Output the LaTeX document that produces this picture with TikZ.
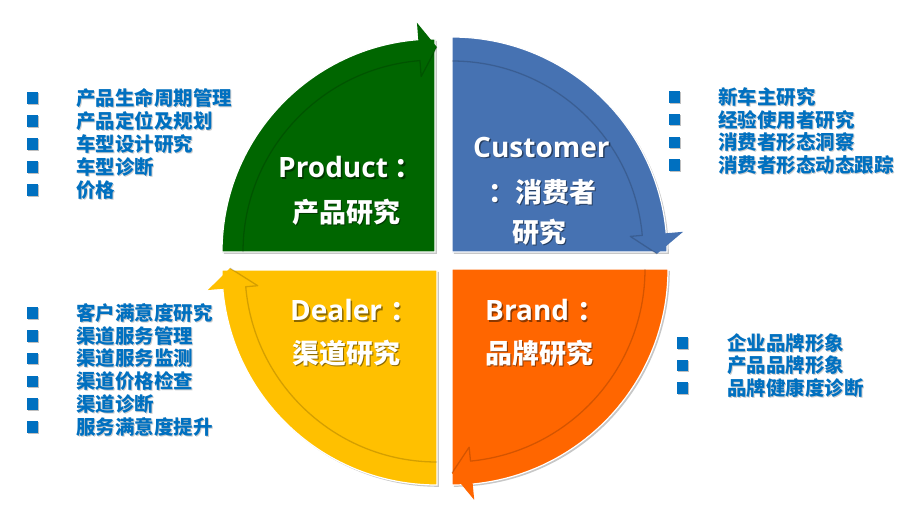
\documentclass[tikz,border=0pt]{standalone}
\usepackage{fontspec}
\setmainfont{Noto Sans CJK SC}
\newfontfamily\latf{Open Sans}
\usetikzlibrary{calc}
\definecolor{qgreen}{RGB}{0,102,0}
\definecolor{qblue}{RGB}{70,114,178}
\definecolor{qyellow}{RGB}{255,192,0}
\definecolor{qorange}{RGB}{255,102,0}
\definecolor{listblue}{RGB}{0,112,192}
\tikzset{
  quad/.style={draw=white, line width=1.2pt,
    preaction={fill=black, opacity=0.22, transform canvas={shift={(1.8pt,-1.8pt)}}}},
  innerline/.style={draw=black, opacity=0.17, line width=1.3pt, line join=round},
  title/.style={text=white, font=\bfseries\fontsize{27}{30}\selectfont, anchor=west, inner sep=0pt},
  item/.style={text=listblue, font=\bfseries\fontsize{19.5}{22}\selectfont, anchor=west, inner sep=0pt},
  bullet/.style={fill=listblue, minimum size=11.5pt, inner sep=0pt,
    preaction={fill=black, opacity=0.25, transform canvas={shift={(1pt,-1pt)}}}},
}
\newcommand\shtext[4]{%
  \node[#1, text=black, opacity=0.45, xshift=1.5pt, yshift=-1.5pt] (#2s) at (#3) {#4};
  \node[#1] (#2) at (#3) {#4};}
\newcommand\lat[1]{{\latf\fontsize{28}{30}\selectfont #1}}
\begin{document}
\begin{tikzpicture}[x=1pt, y=-1pt]
\useasboundingbox[fill=white] (0,0) rectangle (914,520);
% green quadrant
\begin{scope}[shift={(435,252)}]
  \path[quad, fill=qgreen] (0,0) -- (180:213) arc[start angle=180, end angle=270, radius=213] -- cycle;
  \fill[qgreen] (265.5:230) -- (270.5:205) -- (265.5:176) -- cycle;
  \draw[innerline] (180:192) arc[start angle=180, end angle=265.5, radius=192] -- (265.5:176) -- (270.5:205);
\end{scope}
% blue quadrant
\begin{scope}[shift={(452,252)}]
  \path[quad, fill=qblue] (0,0) -- (270:215) arc[start angle=270, end angle=360, radius=215] -- cycle;
  \fill[qblue] (355:232) -- (0.5:205) -- (355:179) -- cycle;
  \draw[innerline] (270:191) arc[start angle=270, end angle=355, radius=191] -- (355:179) -- (0.5:205);
\end{scope}
% orange quadrant
\begin{scope}[shift={(452,269)}]
  \path[quad, fill=qorange] (0,0) -- (0:216) arc[start angle=0, end angle=90, radius=216] -- cycle;
  \fill[qorange] (84.5:232) -- (90:204) -- (84.5:179) -- cycle;
  \draw[innerline] (0:193) arc[start angle=0, end angle=84.5, radius=193] -- (84.5:179) -- (90:204);
\end{scope}
% yellow quadrant
\begin{scope}[shift={(437,270)}]
  \path[quad, fill=qyellow] (0,0) -- (90:215) arc[start angle=90, end angle=180, radius=215] -- cycle;
  \fill[qyellow] (175:230) -- (180.5:207) -- (175:180) -- cycle;
  \draw[innerline] (90:192) arc[start angle=90, end angle=175, radius=192] -- (175:180) -- (180.5:207);
\end{scope}
% titles
\shtext{title}{p1}{278,167}{\lat{Product}\hspace{7pt}：}
\shtext{title}{p2}{292,212}{产品研究}
\shtext{title}{c1}{473,147}{\lat{Customer}}
\shtext{title}{c2}{488,192}{：消费者}
\shtext{title}{c3}{512,232}{研究}
\shtext{title}{d1}{290,310}{\lat{Dealer}\hspace{8pt}：}
\shtext{title}{d2}{292,353}{渠道研究}
\shtext{title}{b1}{485,310}{\lat{Brand}\hspace{8pt}：}
\shtext{title}{b2}{485,353}{品牌研究}
% lists
\foreach \t [count=\i] in {产品生命周期管理,产品定位及规划,车型设计研究,车型诊断,价格}{
  \node[bullet] (ltb\i) at (32.5,{98+23*(\i-1)}) {};
  \node[item, text=black, opacity=0.2, xshift=1pt, yshift=-1pt] (lts\i) at (76,{98+23*(\i-1)}) {\t};
  \node[item] (lt\i) at (76,{98+23*(\i-1)}) {\t};
}
\foreach \t [count=\i] in {客户满意度研究,渠道服务管理,渠道服务监测,渠道价格检查,渠道诊断,服务满意度提升}{
  \node[bullet] (lbb\i) at (32.5,{313+22.8*(\i-1)}) {};
  \node[item, text=black, opacity=0.2, xshift=1pt, yshift=-1pt] (lbs\i) at (76,{313+22.8*(\i-1)}) {\t};
  \node[item] (lb\i) at (76,{313+22.8*(\i-1)}) {\t};
}
\foreach \t [count=\i] in {新车主研究,经验使用者研究,消费者形态洞察,消费者形态动态跟踪}{
  \node[bullet] (rtb\i) at (674.5,{97+22.7*(\i-1)}) {};
  \node[item, text=black, opacity=0.2, xshift=1pt, yshift=-1pt] (rts\i) at (718,{97+22.7*(\i-1)}) {\t};
  \node[item] (rt\i) at (718,{97+22.7*(\i-1)}) {\t};
}
\foreach \t [count=\i] in {企业品牌形象,产品品牌形象,品牌健康度诊断}{
  \node[bullet] (rbb\i) at (682.5,{343+22.5*(\i-1)}) {};
  \node[item, text=black, opacity=0.2, xshift=1pt, yshift=-1pt] (rbs\i) at (727,{343+22.5*(\i-1)}) {\t};
  \node[item] (rb\i) at (727,{343+22.5*(\i-1)}) {\t};
}
\end{tikzpicture}
\end{document}
